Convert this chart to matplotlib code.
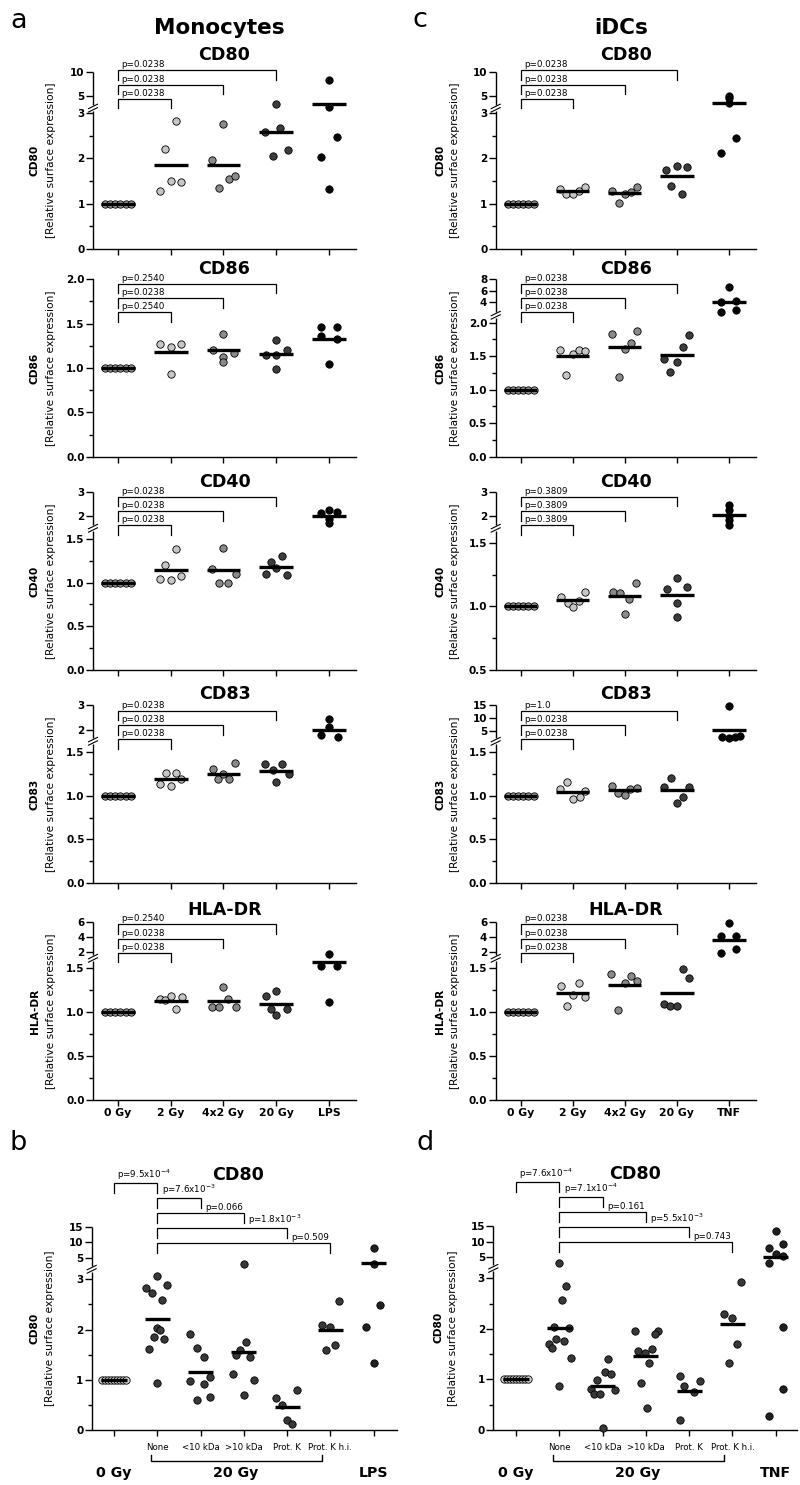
"""Dot plots of relative surface marker expression on irradiated monocytes and iDCs."""

import numpy as np
import matplotlib

matplotlib.use("Agg")
from matplotlib import pyplot as plt  # noqa: E402

plt.rcParams["font.family"] = ["DejaVu Sans"]

# ---------------------------------------------------------------- data ----
MARKERS = ["CD80", "CD86", "CD40", "CD83", "HLA-DR"]
MONO_GROUPS = ["0 Gy", "2 Gy", "4x2 Gy", "20 Gy", "LPS"]
DC_GROUPS = ["0 Gy", "2 Gy", "4x2 Gy", "20 Gy", "TNF"]
FRACTIONS = ["", "None", "<10 kDa", ">10 kDa", "Prot. K", "Prot. K h.i.", ""]
YLABEL_SUB = "[Relative surface expression]"

BASE6 = [1.0, 1.0, 1.0, 1.0, 1.0, 1.0]
BASE9 = [1.0, 1.0, 1.0, 1.0, 1.0, 1.0, 1.0, 1.0, 1.0]

# monocytes (panel a)
MONO_CD80 = [BASE6,
             [1.28, 2.2, 1.49, 2.82, 1.48],
             [1.97, 1.34, 2.76, 1.55, 1.6],
             [2.57, 2.06, 3.4, 2.66, 2.18],
             [2.03, 1.32, 8.3, 3.2, 2.47]]
MONO_CD80_MEAN = [1.0, 1.86, 1.86, 2.59, 3.47]
MONO_CD80_P = ["p=0.0238", "p=0.0238", "p=0.0238"]

MONO_CD86 = [BASE6,
             [1.27, 1.235, 0.93, 1.27],
             [1.2, 1.385, 1.12, 1.07, 1.17],
             [1.15, 1.32, 1.15, 0.99, 1.2],
             [1.46, 1.355, 1.05, 1.46, 1.33]]
MONO_CD86_MEAN = [1.0, 1.18, 1.2, 1.16, 1.33]
MONO_CD86_P = ["p=0.2540", "p=0.0238", "p=0.2540"]

MONO_CD40 = [BASE6,
             [1.046, 1.207, 1.034, 1.39, 1.08],
             [1.153, 1.0, 1.4, 1.0, 1.1],
             [1.1, 1.24, 1.17, 1.3, 1.09],
             [2.11, 2.25, 1.86, 1.69, 2.15]]
MONO_CD40_MEAN = [1.0, 1.15, 1.14, 1.175, 2.0]
MONO_CD40_P = ["p=0.0238", "p=0.0238", "p=0.0238"]

MONO_CD83 = [BASE6,
             [1.14, 1.26, 1.11, 1.26, 1.19],
             [1.31, 1.19, 1.254, 1.19, 1.377],
             [1.36, 1.29, 1.155, 1.36, 1.254],
             [1.82, 2.46, 2.14, 1.73]]
MONO_CD83_MEAN = [1.0, 1.19, 1.255, 1.285, 2.0]
MONO_CD83_P = ["p=0.0238", "p=0.0238", "p=0.0238"]

MONO_HLA = [BASE6,
            [1.153, 1.134, 1.18, 1.034, 1.17],
            [1.057, 1.057, 1.286, 1.153, 1.057],
            [1.187, 1.034, 1.237, 0.97, 1.034],
            [1.58, 1.95, 1.11, 1.58]]
MONO_HLA_MEAN = [1.0, 1.125, 1.125, 1.095, 1.7]
MONO_HLA_P = ["p=0.0238", "p=0.0238", "p=0.2540"]

# iDCs (panel c)
DC_CD80 = [BASE6,
           [1.32, 1.21, 1.21, 1.29, 1.375],
           [1.29, 1.01, 1.21, 1.26, 1.36],
           [1.75, 1.38, 1.82, 1.22, 1.8],
           [2.11, 3.6, 5.0, 4.6, 2.44]]
DC_CD80_MEAN = [1.0, 1.28, 1.23, 1.6, 3.5]
DC_CD80_P = ["p=0.0238", "p=0.0238", "p=0.0238"]

DC_CD86 = [BASE6,
           [1.59, 1.215, 1.535, 1.585, 1.575],
           [1.835, 1.185, 1.61, 1.7, 1.87],
           [1.45, 1.26, 1.41, 1.64, 1.815],
           [4.0, 2.24, 6.65, 4.18, 2.65]]
DC_CD86_MEAN = [1.0, 1.495, 1.64, 1.515, 4.0]
DC_CD86_P = ["p=0.0238", "p=0.0238", "p=0.0238"]

DC_CD40 = [BASE6,
           [1.078, 1.025, 0.996, 1.04, 1.11],
           [1.117, 1.104, 0.938, 1.057, 1.183],
           [1.136, 1.228, 1.025, 0.914, 1.154],
           [2.46, 2.25, 2.0, 1.8, 1.62]]
DC_CD40_MEAN = [1.0, 1.05, 1.08, 1.09, 2.05]
DC_CD40_P = ["p=0.3809", "p=0.3809", "p=0.3809"]

DC_CD83 = [BASE6,
           [1.077, 1.165, 0.966, 0.99, 1.057],
           [1.115, 1.03, 1.01, 1.08, 1.096],
           [1.107, 1.21, 0.923, 0.985, 1.107],
           [2.8, 2.6, 14.6, 3.0, 3.2]]
DC_CD83_MEAN = [1.0, 1.045, 1.07, 1.07, 5.5]
DC_CD83_P = ["p=0.0238", "p=0.0238", "p=1.0"]

DC_HLA = [BASE6,
          [1.30, 1.065, 1.2, 1.327, 1.173],
          [1.44, 1.027, 1.327, 1.415, 1.36],
          [1.096, 1.065, 1.065, 1.49, 1.385],
          [4.2, 1.98, 5.9, 4.2, 2.5]]
DC_HLA_MEAN = [1.0, 1.22, 1.31, 1.22, 3.7]
DC_HLA_P = ["p=0.0238", "p=0.0238", "p=0.0238"]

# supernatant fractions, CD80 (panels b and d)
MONO_FRAC = [BASE9,
             [2.82, 2.73, 3.01, 2.89, 2.58, 2.03, 2.0, 1.85, 1.81, 1.61, 0.93],
             [1.92, 1.63, 1.45, 0.97, 0.92, 1.05, 0.6, 0.67],
             [3.1, 1.75, 1.6, 1.5, 1.45, 1.11, 1.0, 0.7],
             [0.65, 0.5, 0.8, 0.2, 0.13],
             [2.1, 2.05, 2.57, 1.6, 1.69],
             [8.2, 3.2, 2.49, 2.05, 1.33]]
MONO_FRAC_MEAN = [1.0, 2.21, 1.15, 1.55, 0.46, 2.0, 3.4]
MONO_FRAC_P = ["p=9.5x10$^{-4}$", "p=7.6x10$^{-3}$", "p=0.066",
               "p=1.8x10$^{-3}$", "p=0.509"]

DC_FRAC = [BASE9,
           [3.2, 2.85, 2.57, 2.04, 2.02, 1.71, 1.81, 1.62, 1.76, 1.43, 0.87],
           [1.4, 1.15, 1.11, 0.98, 0.82, 0.71, 0.71, 0.79, 0.03],
           [1.96, 1.96, 1.89, 1.57, 1.53, 1.61, 1.33, 0.94, 0.43],
           [1.07, 0.87, 0.96, 0.76, 0.2],
           [2.29, 2.22, 2.93, 1.71, 1.33],
           [13.3, 8.1, 9.2, 6.0, 5.3, 3.3, 2.04, 0.81, 0.28]]
DC_FRAC_MEAN = [1.0, 2.02, 0.87, 1.47, 0.77, 2.09, 5.0]
DC_FRAC_P = ["p=7.6x10$^{-4}$", "p=7.1x10$^{-4}$", "p=0.161",
             "p=5.5x10$^{-3}$", "p=0.743"]

# y axis ticks: (major values, major labels, minor values)
TICKS_0_3_10 = ([0, 1, 2, 3, 5, 10], ["0", "1", "2", "3", "5", "10"], [0.5, 1.5, 2.5])
TICKS_0_2 = ([0, 0.5, 1, 1.5, 2], ["0.0", "0.5", "1.0", "1.5", "2.0"],
             [0.25, 0.75, 1.25, 1.75])
TICKS_0_2_8 = ([0, 0.5, 1, 1.5, 2, 4, 6, 8],
               ["0.0", "0.5", "1.0", "1.5", "2.0", "4", "6", "8"],
               [0.25, 0.75, 1.25, 1.75])
TICKS_0_15_3 = ([0, 0.5, 1, 1.5, 2, 3], ["0.0", "0.5", "1.0", "1.5", "2", "3"],
                [0.25, 0.75, 1.25])
TICKS_05_15_3 = ([0.5, 1, 1.5, 2, 3], ["0.5", "1.0", "1.5", "2", "3"], [0.75, 1.25])
TICKS_0_15_15 = ([0, 0.5, 1, 1.5, 5, 10, 15],
                 ["0.0", "0.5", "1.0", "1.5", "5", "10", "15"], [0.25, 0.75, 1.25])
TICKS_0_15_6 = ([0, 0.5, 1, 1.5, 2, 4, 6], ["0.0", "0.5", "1.0", "1.5", "2", "4", "6"],
                [0.25, 0.75, 1.25])
TICKS_FRAC = ([0, 1, 2, 3, 5, 10, 15], ["0", "1", "2", "3", "5", "10", "15"],
              [0.5, 1.5, 2.5])

# ------------------------------------------------------------- layout ----
# horizontal spread of the dots inside a column (category units)
SPREAD6 = [-0.25, -0.15, -0.05, 0.05, 0.15, 0.25]
SPREAD9 = [-0.28, -0.21, -0.14, -0.07, 0.0, 0.07, 0.14, 0.21, 0.28]

MONO_CD80_DX = [SPREAD6, [-0.2, -0.1, 0, 0.1, 0.2], [-0.22, -0.08, 0, 0.1, 0.22],
                [-0.21, -0.06, 0, 0.08, 0.23], [-0.15, 0, 0, 0, 0.15]]
MONO_CD86_DX = [SPREAD6, [-0.2, 0, 0, 0.2], [-0.2, 0, 0, 0, 0.2],
                [-0.2, 0, 0, 0, 0.2], [-0.15, -0.15, 0, 0.15, 0.15]]
MONO_CD40_DX = [SPREAD6, [-0.2, -0.1, 0, 0.1, 0.2], [-0.22, -0.08, 0, 0.08, 0.23],
                [-0.2, -0.1, 0, 0.1, 0.2], [-0.15, 0, 0, 0, 0.15]]
MONO_CD83_DX = [SPREAD6, [-0.2, -0.08, 0, 0.11, 0.2], [-0.19, -0.1, 0, 0.1, 0.21],
                [-0.21, -0.07, 0, 0.1, 0.24], [-0.15, 0, 0, 0.16]]
MONO_HLA_DX = [SPREAD6, [-0.2, -0.1, 0, 0.1, 0.22], [-0.22, -0.08, 0, 0.08, 0.23],
               [-0.2, -0.1, 0, 0, 0.2], [-0.15, 0, 0, 0.15]]
DC_CD80_DX = [SPREAD6, [-0.24, -0.13, 0, 0.12, 0.24], [-0.24, -0.11, 0, 0.12, 0.24],
              [-0.21, -0.11, 0, 0.1, 0.19], [-0.16, 0, 0, 0, 0.14]]
DC_CD86_DX = [SPREAD6, [-0.24, -0.13, 0, 0.12, 0.24], [-0.25, -0.11, 0, 0.12, 0.24],
              [-0.24, -0.13, 0, 0.12, 0.23], [-0.16, -0.16, 0, 0.14, 0.14]]
DC_CD40_DX = [SPREAD6, [-0.22, -0.1, 0, 0.12, 0.24], [-0.22, -0.09, 0, 0.08, 0.22],
              [-0.18, 0, 0, 0, 0.2], [0, 0, 0, 0, 0]]
DC_CD83_DX = [SPREAD6, [-0.24, -0.12, 0, 0.13, 0.24], [-0.25, -0.13, 0, 0.1, 0.23],
              [-0.24, -0.12, 0, 0.11, 0.24], [-0.14, 0, 0, 0.12, 0.22]]
DC_HLA_DX = [SPREAD6, [-0.23, -0.12, 0, 0.12, 0.24], [-0.26, -0.13, 0, 0.11, 0.23],
             [-0.24, -0.13, 0, 0.11, 0.23], [-0.16, -0.16, 0, 0.14, 0.14]]
MONO_FRAC_DX = [SPREAD9,
                [-0.25, -0.12, 0, 0.23, 0.12, 0, 0.06, -0.08, 0.16, -0.19, 0],
                [-0.24, -0.08, 0.07, -0.24, 0.07, 0.22, -0.08, 0.22],
                [0, 0.05, -0.08, -0.17, 0.14, -0.25, 0.24, 0],
                [-0.25, -0.12, 0.24, 0, 0.12],
                [-0.2, 0, 0.2, -0.1, 0.1],
                [0, 0, 0.14, -0.17, 0]]
DC_FRAC_DX = [SPREAD9,
              [0, 0.15, 0.06, -0.12, 0.23, -0.24, -0.07, -0.16, 0.11, 0.27, 0],
              [0.13, 0.05, 0.2, -0.12, -0.27, -0.19, -0.05, 0.28, 0],
              [-0.25, 0.27, 0.21, -0.18, -0.02, 0.15, 0.08, -0.12, 0.02],
              [-0.21, -0.12, 0.25, 0.12, -0.22],
              [-0.2, 0, 0.2, 0.1, -0.09],
              [0, -0.15, 0.16, 0, 0.16, -0.15, 0.16, 0.16, -0.15]]

# broken y axis: value knots and the axes fraction they land on
SCALE_0_3_10 = ([0, 3, 3.3, 10], [0, 0.770, 0.818, 1])
SCALE_0_2 = ([0, 2], [0, 1])
SCALE_0_2_8 = ([0, 2, 2.1, 8], [0, 0.756, 0.811, 1])
SCALE_CD40 = ([0, 1.5, 1.6, 3], [0, 0.736, 0.814, 1])
SCALE_05_CD40 = ([0.5, 1.5, 1.6, 3], [0, 0.7125, 0.815, 1])
SCALE_CD83 = ([0, 1.5, 1.6, 3], [0, 0.736, 0.804, 1])
SCALE_0_15_15 = ([0, 1.5, 2.0, 15], [0, 0.735, 0.808, 1])
SCALE_HLA = ([0, 1.5, 2.0, 6], [0, 0.740, 0.831, 1])
SCALE_FRAC = ([0, 3, 3.05, 15], [0, 0.742, 0.815, 1])

FIG_W, FIG_H = 800, 1485
COL_X = [(93.0, 356.0), (495.7, 756.0)]
ROW_Y = [(72.2, 249.1), (279.2, 456.8), (492.3, 669.5), (705.2, 883.0), (922.3, 1099.5)]
XLIMS = [(-0.47, 4.51), (-0.48, 4.52)]
TITLE_Y = [1.100, 1.056, 1.056, 1.062, 1.069]
BRACKET_TOP = [1.011, 0.974, 0.975, 0.968, 0.989]
YLAB_OFF = [(-58.0, -42.0), (-55.5, -40.5)]

TOP_COLORS = ["#9c9c9c", "#c6c6c6", "#8a8a8a", "#3c3c3c", "#050505"]
FRAC_COLORS = ["#d6d6d6", "#383838", "#383838", "#383838", "#383838", "#383838", "#202020"]


def rect(x0, x1, y0, y1):
    return [x0 / FIG_W, 1 - y1 / FIG_H, (x1 - x0) / FIG_W, (y1 - y0) / FIG_H]


def piecewise(knots, fracs):
    def make(a, b):
        a = np.asarray(a, float)
        b = np.asarray(b, float)
        lo = (b[1] - b[0]) / (a[1] - a[0])
        hi = (b[-1] - b[-2]) / (a[-1] - a[-2])

        def fn(v):
            v = np.asarray(v, float)
            out = np.interp(v, a, b)
            out = np.where(v < a[0], b[0] + (v - a[0]) * lo, out)
            return np.where(v > a[-1], b[-1] + (v - a[-1]) * hi, out)
        return fn
    return make(knots, fracs), make(fracs, knots)


def dot_panel(ax, values, dx, means, colors, half, scale, ticks, xlim, size, fb):
    w_px, h_px = size
    knots, fracs = scale
    ax.set_yscale("function", functions=piecewise(knots, fracs))
    ax.set_ylim(knots[0], knots[-1])
    ax.set_xlim(*xlim)
    for i, (vals, offs, m, col) in enumerate(zip(values, dx, means, colors)):
        ax.scatter(i + np.asarray(offs), vals, s=28, facecolors=col,
                   edgecolors="black", linewidths=0.6, zorder=3, clip_on=False)
        ax.plot([i - half, i + half], [m, m], color="black", lw=2.4,
                solid_capstyle="butt", zorder=4)

    major, labels, minor = ticks
    ax.set_yticks(major)
    ax.set_yticklabels(labels, fontsize=7.5, fontweight="bold")
    ax.set_yticks(minor, minor=True)
    ax.set_xticks(range(len(values)))
    ax.tick_params(axis="y", which="major", length=5, width=1.0, pad=1)
    ax.tick_params(axis="y", which="minor", length=3, width=1.0)
    ax.tick_params(axis="x", which="major", length=4, width=1.0, pad=2)
    for side in ("top", "right"):
        ax.spines[side].set_visible(False)
    ax.spines["bottom"].set_linewidth(1.0)
    ax.spines["left"].set_linewidth(1.0)

    if len(knots) == 4:
        # axis break drawn as two short strokes across a gap in the spine
        ax.spines["left"].set_visible(False)
        g = 3.0 / h_px
        kw = dict(color="black", lw=1.0, transform=ax.transAxes, clip_on=False,
                  solid_capstyle="butt")
        ax.plot([0, 0], [0, fb - g], **kw)
        ax.plot([0, 0], [fb + g, 1], **kw)
        for d in (-1.7, 1.7):
            ax.plot([-4.5 / w_px, 4.5 / w_px], [fb + (d - 2.2) / h_px, fb + (d + 2.2) / h_px],
                    color="black", lw=0.8, transform=ax.transAxes, clip_on=False)


def y_label(ax, name, offs, w_px):
    ax.text(offs[0] / w_px, 0.5, name, rotation=90, transform=ax.transAxes,
            ha="center", va="center", fontsize=7.7, fontweight="bold")
    ax.text(offs[1] / w_px, 0.5, YLABEL_SUB, rotation=90, transform=ax.transAxes,
            ha="center", va="center", fontsize=7.7)


def bracket(ax, x0, x1, y, drop, lw=0.9):
    ax.plot([x0, x0, x1, x1], [y - drop, y, y, y - drop], color="black", lw=lw,
            transform=ax.get_xaxis_transform(), clip_on=False, solid_joinstyle="miter")


fig = plt.figure(figsize=(FIG_W / 100, FIG_H / 100), dpi=100)

mono = [(MONO_CD80, MONO_CD80_DX, MONO_CD80_MEAN, MONO_CD80_P, SCALE_0_3_10, TICKS_0_3_10),
        (MONO_CD86, MONO_CD86_DX, MONO_CD86_MEAN, MONO_CD86_P, SCALE_0_2, TICKS_0_2),
        (MONO_CD40, MONO_CD40_DX, MONO_CD40_MEAN, MONO_CD40_P, SCALE_CD40, TICKS_0_15_3),
        (MONO_CD83, MONO_CD83_DX, MONO_CD83_MEAN, MONO_CD83_P, SCALE_CD83, TICKS_0_15_3),
        (MONO_HLA, MONO_HLA_DX, MONO_HLA_MEAN, MONO_HLA_P, SCALE_HLA, TICKS_0_15_6)]
dcs = [(DC_CD80, DC_CD80_DX, DC_CD80_MEAN, DC_CD80_P, SCALE_0_3_10, TICKS_0_3_10),
       (DC_CD86, DC_CD86_DX, DC_CD86_MEAN, DC_CD86_P, SCALE_0_2_8, TICKS_0_2_8),
       (DC_CD40, DC_CD40_DX, DC_CD40_MEAN, DC_CD40_P, SCALE_05_CD40, TICKS_05_15_3),
       (DC_CD83, DC_CD83_DX, DC_CD83_MEAN, DC_CD83_P, SCALE_0_15_15, TICKS_0_15_15),
       (DC_HLA, DC_HLA_DX, DC_HLA_MEAN, DC_HLA_P, SCALE_HLA, TICKS_0_15_6)]

for col, (panels, groups) in enumerate([(mono, MONO_GROUPS), (dcs, DC_GROUPS)]):
    x0, x1 = COL_X[col]
    for row, (vals, dx, means, pvals, scale, ticks) in enumerate(panels):
        y0, y1 = ROW_Y[row]
        w_px, h_px = x1 - x0, y1 - y0
        ax = fig.add_axes(rect(x0, x1, y0, y1))
        dot_panel(ax, vals, dx, means, TOP_COLORS, 0.32, scale, ticks, XLIMS[col],
                  (w_px, h_px), 0.797)
        if row == len(panels) - 1:
            ax.set_xticklabels(groups, fontsize=7.8, fontweight="bold")
        else:
            ax.set_xticklabels([])
        ax.text(0.5, TITLE_Y[row], MARKERS[row], transform=ax.transAxes, ha="center",
                va="center", fontsize=12.6, fontweight="bold")
        y_label(ax, MARKERS[row], YLAB_OFF[col], w_px)
        step, drop = 14.3 / h_px, 9.5 / h_px
        for i, k in enumerate([3, 2, 1]):
            y = BRACKET_TOP[row] - i * step
            bracket(ax, 0, k, y, drop)
            ax.text(0.06, y + 1.0 / h_px, pvals[k - 1], transform=ax.get_xaxis_transform(),
                    ha="left", va="bottom", fontsize=6.3)

# panels b and d: CD80 after supernatant fractions
FRAC_LAYOUT = [((91.7, 397.0, 1226.7, 1430.3), (-0.515, 6.54), (-57.7, -41.7), 0.479, "LPS",
                MONO_FRAC, MONO_FRAC_DX, MONO_FRAC_MEAN, MONO_FRAC_P),
               ((493.3, 797.0, 1225.7, 1430.0), (-0.524, 6.49), (-55.0, -40.0), 0.467, "TNF",
                DC_FRAC, DC_FRAC_DX, DC_FRAC_MEAN, DC_FRAC_P)]
BRACKET_PAIRS = [(0, 1), (1, 2), (1, 3), (1, 4), (1, 5)]
BRACKET_Y = [1.213, 1.14, 1.066, 0.993, 0.921]
LABEL_X = [0.06, 1.1, 2.1, 3.1, 4.1]

for (x0, x1, y0, y1), xlim, yoff, title_x, stim, vals, dx, means, pvals in FRAC_LAYOUT:
    w_px, h_px = x1 - x0, y1 - y0
    ax = fig.add_axes(rect(x0, x1, y0, y1))
    dot_panel(ax, vals, dx, means, FRAC_COLORS, 0.29, SCALE_FRAC, TICKS_FRAC, xlim,
              (w_px, h_px), 0.791)
    ax.set_xticklabels(FRACTIONS, fontsize=6.2)
    ax.tick_params(axis="x", pad=5)
    ax.text(title_x, 1.255, "CD80", transform=ax.transAxes, ha="center", va="center",
            fontsize=12.6, fontweight="bold")
    y_label(ax, "CD80", yoff, w_px)
    drop = 10.0 / h_px
    for (a, b), y, lx, p in zip(BRACKET_PAIRS, BRACKET_Y, LABEL_X, pvals):
        bracket(ax, a, b, y, drop)
        ax.text(lx, y + 1.0 / h_px, p, transform=ax.get_xaxis_transform(), ha="left",
                va="bottom", fontsize=6.3)
    # treatment grouping under the axis
    yb = -30.5 / h_px
    bracket(ax, 0.85, 4.8, yb, -6.0 / h_px, lw=1.0)
    trans = ax.get_xaxis_transform()
    for x, lab in [(0, "0 Gy"), (2.82, "20 Gy"), (6, stim)]:
        ax.text(x, -43.0 / h_px, lab, transform=trans, ha="center", va="center",
                fontsize=10.2, fontweight="bold")

fig.text(219 / FIG_W, 1 - 34.0 / FIG_H, "Monocytes", ha="center", va="baseline",
         fontsize=15.5, fontweight="bold")
fig.text(621 / FIG_W, 1 - 34.0 / FIG_H, "iDCs", ha="center", va="baseline",
         fontsize=15.5, fontweight="bold")
for x, y, letter in [(10, 28.3, "a"), (413, 26.7, "c"), (10, 1150, "b"), (417, 1150, "d")]:
    fig.text(x / FIG_W, 1 - y / FIG_H, letter, ha="left", va="baseline", fontsize=19.5)

fig.savefig("out.png", dpi=100)
